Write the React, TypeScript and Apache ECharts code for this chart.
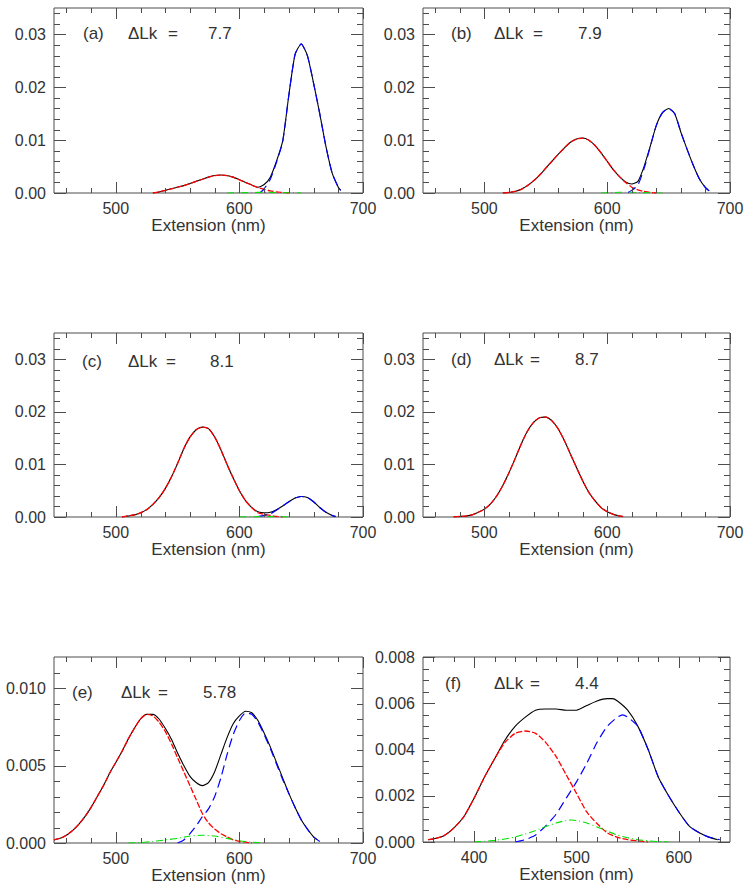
import React, { useEffect, useRef } from "react";
import * as echarts from "echarts";

// ---------------- tick values ----------------
const xTicksMain = [500, 600, 700];
const xMinorMain = [460, 480, 520, 540, 560, 580, 620, 640, 660, 680];
const xTicksF = [400, 500, 600];
const xMinorF = [360, 380, 420, 440, 460, 480, 520, 540, 560, 580, 620, 640];
const yTicksAD = [0, 0.01, 0.02, 0.03];
const yMinorAD = [0.002, 0.004, 0.006, 0.008, 0.012, 0.014, 0.016, 0.018, 0.022, 0.024, 0.026, 0.028, 0.032, 0.034];
const yTicksE = [0, 0.005, 0.01];
const yMinorE = [0.001, 0.002, 0.003, 0.004, 0.006, 0.007, 0.008, 0.009, 0.011];
const yTicksF = [0, 0.002, 0.004, 0.006, 0.008];
const yMinorF = [0.0005, 0.001, 0.0015, 0.0025, 0.003, 0.0035, 0.0045, 0.005, 0.0055, 0.0065, 0.007, 0.0075];

const panelLabels = ["(a)", "(b)", "(c)", "(d)", "(e)", "(f)"];
const deltaLk = ["7.7", "7.9", "8.1", "8.7", "5.78", "4.4"];

// ---------------- panel (a) ----------------
const xA_total = [530, 535, 540, 545, 550, 555, 560, 565, 570, 575, 580, 585, 590, 595, 600, 605, 610, 615, 620, 625, 630, 635, 640, 645, 650, 655, 660, 665, 670, 675, 680, 682];
const yA_total = [0.0, 0.0002, 0.0005, 0.0008, 0.0011, 0.0014, 0.0018, 0.0022, 0.0026, 0.003, 0.0033, 0.0034, 0.0033, 0.003, 0.0025, 0.002, 0.0015, 0.0011, 0.0016, 0.003, 0.006, 0.0098, 0.0185, 0.0262, 0.0282, 0.026, 0.0208, 0.015, 0.0088, 0.0038, 0.0011, 0.0005];
const xA_red = [530, 535, 540, 545, 550, 555, 560, 565, 570, 575, 580, 585, 590, 595, 600, 605, 610, 615, 620, 625, 630, 635, 640];
const yA_red = [0.0, 0.0002, 0.0005, 0.0008, 0.0011, 0.0014, 0.0018, 0.0022, 0.0026, 0.003, 0.0033, 0.0034, 0.0033, 0.003, 0.0025, 0.002, 0.0015, 0.001, 0.0007, 0.0004, 0.0002, 0.0001, 0.0];
const xA_blue = [617, 620, 625, 630, 635, 640, 645, 650, 655, 660, 665, 670, 675, 680, 682];
const yA_blue = [0.0001, 0.0008, 0.0026, 0.0058, 0.0097, 0.0185, 0.0262, 0.0282, 0.026, 0.0208, 0.015, 0.0088, 0.0038, 0.0011, 0.0005];
const xA_green = [590, 600, 610, 620, 630, 640, 650];
const yA_green = [0, 0.00005, 0.0001, 0.00012, 0.0001, 0.00005, 0];

// ---------------- panel (b) ----------------
const xB_total = [515, 520, 525, 530, 535, 540, 545, 550, 555, 560, 565, 570, 575, 580, 585, 590, 595, 600, 605, 610, 615, 620, 625, 630, 635, 640, 645, 650, 655, 660, 665, 670, 675, 680, 683];
const yB_total = [0.0, 0.0001, 0.0003, 0.0007, 0.0014, 0.0023, 0.0034, 0.0047, 0.006, 0.0073, 0.0085, 0.0096, 0.0102, 0.0104, 0.01, 0.009, 0.0076, 0.006, 0.0044, 0.0031, 0.0021, 0.0017, 0.0022, 0.005, 0.0088, 0.0128, 0.0152, 0.016, 0.015, 0.0115, 0.0083, 0.0053, 0.0027, 0.001, 0.0004];
const xB_red = [515, 520, 525, 530, 535, 540, 545, 550, 555, 560, 565, 570, 575, 580, 585, 590, 595, 600, 605, 610, 615, 620, 625, 630, 635, 640];
const yB_red = [0.0, 0.0001, 0.0003, 0.0007, 0.0014, 0.0023, 0.0034, 0.0047, 0.006, 0.0073, 0.0085, 0.0096, 0.0102, 0.0104, 0.01, 0.009, 0.0076, 0.006, 0.0044, 0.0031, 0.002, 0.0011, 0.0006, 0.0003, 0.0001, 0.0];
const xB_blue = [617, 620, 625, 630, 635, 640, 645, 650, 655, 660, 665, 670, 675, 680, 683];
const yB_blue = [0.0001, 0.0005, 0.0015, 0.0046, 0.0087, 0.0128, 0.0152, 0.016, 0.015, 0.0115, 0.0083, 0.0053, 0.0027, 0.001, 0.0004];
const xB_green = [595, 605, 615, 625, 635, 645];
const yB_green = [0, 0.0001, 0.00015, 0.0001, 0.00003, 0];

// ---------------- panel (c) ----------------
const xC_total = [505, 510, 515, 520, 525, 530, 535, 540, 545, 550, 555, 560, 565, 570, 575, 580, 585, 590, 595, 600, 605, 610, 615, 620, 625, 630, 635, 640, 645, 650, 655, 660, 665, 670, 675, 678];
const yC_total = [0.0, 0.0002, 0.0004, 0.0008, 0.0014, 0.0024, 0.0037, 0.0054, 0.0076, 0.0102, 0.013, 0.0152, 0.0166, 0.0171, 0.0168, 0.0152, 0.0128, 0.01, 0.0074, 0.005, 0.0031, 0.0018, 0.001, 0.0008, 0.0009, 0.0014, 0.0021, 0.0029, 0.0036, 0.0039, 0.0037, 0.0029, 0.0018, 0.0009, 0.0003, 0.0001];
const xC_red = [505, 510, 515, 520, 525, 530, 535, 540, 545, 550, 555, 560, 565, 570, 575, 580, 585, 590, 595, 600, 605, 610, 615, 620, 625, 630, 635];
const yC_red = [0.0, 0.0002, 0.0004, 0.0008, 0.0014, 0.0024, 0.0037, 0.0054, 0.0076, 0.0102, 0.013, 0.0152, 0.0166, 0.0171, 0.0168, 0.0152, 0.0128, 0.01, 0.0074, 0.005, 0.0031, 0.0018, 0.0008, 0.0005, 0.0003, 0.0001, 0.0];
const xC_blue = [615, 620, 625, 630, 635, 640, 645, 650, 655, 660, 665, 670, 675, 678];
const yC_blue = [0.0001, 0.0003, 0.0006, 0.0013, 0.0021, 0.0029, 0.0036, 0.0039, 0.0037, 0.0029, 0.0018, 0.0009, 0.0003, 0.0001];
const xC_green = [600, 610, 620, 630, 640];
const yC_green = [0, 0.00005, 0.0001, 0.00005, 0];

// ---------------- panel (d) ----------------
const xD_total = [475, 480, 485, 490, 495, 500, 505, 510, 515, 520, 525, 530, 535, 540, 545, 550, 555, 560, 565, 570, 575, 580, 585, 590, 595, 600, 605, 610, 613];
const yD_total = [0.0, 0.0001, 0.0002, 0.0004, 0.0009, 0.0015, 0.0025, 0.004, 0.006, 0.0084, 0.0111, 0.0139, 0.0163, 0.018, 0.0189, 0.019, 0.0183, 0.0168, 0.0146, 0.012, 0.0094, 0.0069, 0.0047, 0.0031, 0.0018, 0.001, 0.0005, 0.0002, 0.0001];
const xD_red = [475, 480, 485, 490, 495, 500, 505, 510, 515, 520, 525, 530, 535, 540, 545, 550, 555, 560, 565, 570, 575, 580, 585, 590, 595, 600, 605, 610, 613];
const yD_red = [0.0, 0.0001, 0.0002, 0.0004, 0.0009, 0.0015, 0.0025, 0.004, 0.006, 0.0084, 0.0111, 0.0139, 0.0163, 0.018, 0.0189, 0.019, 0.0183, 0.0168, 0.0146, 0.012, 0.0094, 0.0069, 0.0047, 0.0031, 0.0018, 0.001, 0.0005, 0.0002, 0.0001];

// ---------------- panel (e) ----------------
const xE_total = [450, 455, 460, 465, 470, 475, 480, 485, 490, 495, 500, 505, 510, 515, 520, 525, 530, 535, 540, 545, 550, 555, 560, 565, 570, 575, 580, 585, 590, 595, 600, 605, 610, 615, 620, 625, 630, 635, 640, 645, 650, 655, 660, 663];
const yE_total = [0.0002, 0.0003, 0.0005, 0.0008, 0.0012, 0.0017, 0.0023, 0.003, 0.0037, 0.0045, 0.0052, 0.0059, 0.0067, 0.0074, 0.008, 0.0083, 0.0083, 0.008, 0.0074, 0.0067, 0.0058, 0.005, 0.0043, 0.0039, 0.0037, 0.0039, 0.0046, 0.0057, 0.0068, 0.0077, 0.0082, 0.0085, 0.0084, 0.0079, 0.0071, 0.0062, 0.0052, 0.0042, 0.0032, 0.0023, 0.0015, 0.0009, 0.0004, 0.0002];
const xE_red = [450, 455, 460, 465, 470, 475, 480, 485, 490, 495, 500, 505, 510, 515, 520, 525, 530, 535, 540, 545, 550, 555, 560, 565, 570, 575, 580, 585, 590, 595, 600, 605, 610];
const yE_red = [0.0002, 0.0003, 0.0005, 0.0008, 0.0012, 0.0017, 0.0023, 0.003, 0.0037, 0.0045, 0.0052, 0.0059, 0.0067, 0.0074, 0.008, 0.0083, 0.0082, 0.0078, 0.0072, 0.0064, 0.0055, 0.0046, 0.0037, 0.0028, 0.0019, 0.0013, 0.0009, 0.0006, 0.0004, 0.0002, 0.0001, 0.00005, 0.0];
const xE_blue = [550, 555, 560, 565, 570, 575, 580, 585, 590, 595, 600, 605, 610, 615, 620, 625, 630, 635, 640, 645, 650, 655, 660, 665];
const yE_blue = [0.0, 0.0002, 0.0006, 0.0011, 0.0017, 0.0022, 0.003, 0.0042, 0.0057, 0.007, 0.0079, 0.0084, 0.0083, 0.0078, 0.007, 0.0061, 0.0051, 0.0041, 0.0032, 0.0023, 0.0015, 0.0009, 0.0004, 0.0001];
const xE_green = [510, 520, 530, 540, 550, 560, 570, 580, 590, 600, 610, 620];
const yE_green = [0, 0.00003, 0.0001, 0.0002, 0.0003, 0.00045, 0.0005, 0.00045, 0.0003, 0.00015, 0.00005, 0];

// ---------------- panel (f) ----------------
const xF_total = [355, 360, 370, 380, 390, 400, 410, 420, 430, 440, 450, 460, 470, 480, 490, 500, 510, 520, 530, 535, 540, 550, 560, 570, 580, 590, 600, 610, 620, 630, 638];
const yF_total = [0.0001, 0.00013, 0.00026, 0.0006, 0.0011, 0.0019, 0.0028, 0.0036, 0.0044, 0.005, 0.0054, 0.0057, 0.00575, 0.00575, 0.0057, 0.0057, 0.0059, 0.0061, 0.0062, 0.0062, 0.0061, 0.0057, 0.005, 0.004, 0.0028, 0.002, 0.0013, 0.0007, 0.0004, 0.0002, 0.0001];
const xF_red = [355, 360, 370, 380, 390, 400, 410, 420, 430, 440, 450, 460, 470, 480, 490, 500, 510, 520, 530, 540, 550, 560, 570];
const yF_red = [0.0001, 0.00013, 0.00026, 0.0006, 0.0011, 0.0019, 0.0028, 0.0036, 0.0043, 0.0047, 0.0048, 0.0047, 0.0043, 0.0037, 0.0029, 0.0021, 0.0013, 0.0008, 0.0004, 0.0002, 0.0001, 0.00005, 0.0];
const xF_blue = [440, 450, 460, 470, 480, 490, 500, 510, 520, 530, 540, 545, 550, 560, 570, 580, 590, 600, 610, 620, 630, 640];
const yF_blue = [0.0, 0.0001, 0.0003, 0.0007, 0.0012, 0.0019, 0.0026, 0.0034, 0.0043, 0.005, 0.0054, 0.0055, 0.0054, 0.005, 0.004, 0.0028, 0.002, 0.0013, 0.0007, 0.0004, 0.0002, 0.0001];
const xF_green = [400, 410, 420, 430, 440, 450, 460, 470, 480, 490, 495, 500, 510, 520, 530, 540, 550, 560, 570, 580, 590];
const yF_green = [0, 0.00003, 0.00007, 0.00013, 0.00022, 0.00035, 0.0005, 0.00067, 0.00082, 0.00093, 0.00095, 0.00093, 0.00082, 0.00065, 0.00047, 0.0003, 0.00018, 0.0001, 0.00005, 0.00002, 0];

// ---------------- styling ----------------
const FONT = "'Liberation Sans', Arial, sans-serif";
const TXT = "#333333";
const AX = "#4d4d4d";

type Kind = "total" | "c1" | "c2" | "c3";
type Curve = { x: number[]; y: number[]; kind: Kind };
type Panel = {
  left: number; top: number; width: number; height: number;
  xMin: number; xMax: number; yMax: number;
  xMajor: number[]; xMinor: number[]; yMajor: number[]; yMinor: number[];
  dec: number;
  curves: Curve[];
  idx: number;
  ann: { lx: number; cy: number; dx: number; ex: number; vx: number };
};

const LINE: Record<Kind, any> = {
  total: { color: "#000000", type: "solid", width: 1.1 },
  c1: { color: "#ff0000", type: [6, 2], width: 1.3 },
  c2: { color: "#0000ff", type: [9, 5], width: 1.2 },
  c3: { color: "#00e000", type: [7, 3, 1, 3], width: 1.1 },
};

function xTickSeries(gi: number, p: Panel, vals: number[], len: number) {
  return {
    type: "custom",
    xAxisIndex: gi,
    yAxisIndex: gi,
    z: 4,
    data: vals.map((v) => [v, 0]),
    renderItem: (params: any, api: any) => {
      const v = api.value(0);
      const b = api.coord([v, 0]);
      const t = api.coord([v, p.yMax]);
      const x = Math.round(b[0]) + 0.5;
      return {
        type: "group",
        children: [
          { type: "line", shape: { x1: x, y1: b[1], x2: x, y2: b[1] - len }, style: { stroke: AX, lineWidth: 1 } },
          { type: "line", shape: { x1: x, y1: t[1], x2: x, y2: t[1] + len }, style: { stroke: AX, lineWidth: 1 } },
        ],
      };
    },
  };
}

function yTickSeries(gi: number, p: Panel, vals: number[], len: number) {
  return {
    type: "custom",
    xAxisIndex: gi,
    yAxisIndex: gi,
    z: 4,
    data: vals.map((v) => [p.xMin, v]),
    renderItem: (params: any, api: any) => {
      const v = api.value(1);
      const l = api.coord([p.xMin, v]);
      const r = api.coord([p.xMax, v]);
      const y = Math.round(l[1]) + 0.5;
      return {
        type: "group",
        children: [
          { type: "line", shape: { x1: l[0], y1: y, x2: l[0] + len, y2: y }, style: { stroke: AX, lineWidth: 1 } },
          { type: "line", shape: { x1: r[0], y1: y, x2: r[0] - len, y2: y }, style: { stroke: AX, lineWidth: 1 } },
        ],
      };
    },
  };
}

function buildOption(panels: Panel[]) {
  const grid: any[] = [];
  const xAxis: any[] = [];
  const yAxis: any[] = [];
  const series: any[] = [];
  const graphic: any[] = [];

  panels.forEach((p, gi) => {
    grid.push({
      left: p.left, top: p.top, width: p.width, height: p.height,
      show: true, borderColor: AX, borderWidth: 1, backgroundColor: "transparent",
    });
    xAxis.push({
      type: "value", gridIndex: gi, min: p.xMin, max: p.xMax, position: "bottom",
      splitLine: { show: false }, axisLine: { show: false }, axisTick: { show: false },
      axisLabel: { show: true, customValues: p.xMajor, margin: 7, color: TXT, fontSize: 16, fontFamily: FONT, formatter: (v: number) => String(Math.round(v)) },
      name: "Extension (nm)", nameLocation: "middle", nameGap: 23,
      nameTextStyle: { color: TXT, fontSize: 17, fontFamily: FONT },
    });
    yAxis.push({
      type: "value", gridIndex: gi, min: 0, max: p.yMax, position: "left",
      splitLine: { show: false }, axisLine: { show: false }, axisTick: { show: false },
      axisLabel: { show: true, customValues: p.yMajor, margin: 8, color: TXT, fontSize: 16, fontFamily: FONT, formatter: (v: number) => v.toFixed(p.dec) },
    });

    p.curves.forEach((c) => {
      series.push({
        type: "line",
        xAxisIndex: gi,
        yAxisIndex: gi,
        data: c.x.map((xv, i) => [xv, c.y[i]]),
        showSymbol: false,
        symbol: "none",
        smooth: 0.2,
        clip: true,
        lineStyle: LINE[c.kind],
        z: c.kind === "total" ? 2 : 3,
      });
    });

    series.push(
      xTickSeries(gi, p, p.xMajor, 11),
      xTickSeries(gi, p, p.xMinor, 5),
      yTickSeries(gi, p, p.yMajor, 12),
      yTickSeries(gi, p, p.yMinor, 6),
    );

    const ts = { fill: TXT, fontSize: 17, fontFamily: FONT, verticalAlign: "middle", align: "left" };
    graphic.push(
      { type: "text", x: p.ann.lx, y: p.ann.cy, style: { ...ts, text: panelLabels[p.idx] } },
      { type: "text", x: p.ann.dx, y: p.ann.cy, style: { ...ts, text: "ΔLk" } },
      { type: "text", x: p.ann.ex, y: p.ann.cy, style: { ...ts, text: "=" } },
      { type: "text", x: p.ann.vx, y: p.ann.cy, style: { ...ts, text: deltaLk[p.idx] } },
    );
  });
  return { animation: false, grid, xAxis, yAxis, series, graphic };
}

const panels: Panel[] = [
  {
    idx: 0, left: 54, top: 8, width: 309, height: 185, xMin: 450, xMax: 700, yMax: 0.035,
    xMajor: xTicksMain, xMinor: xMinorMain, yMajor: yTicksAD, yMinor: yMinorAD, dec: 2,
    curves: [
      { x: xA_total, y: yA_total, kind: "total" },
      { x: xA_red, y: yA_red, kind: "c1" },
      { x: xA_blue, y: yA_blue, kind: "c2" },
      { x: xA_green, y: yA_green, kind: "c3" },
    ],
    ann: { lx: 83, cy: 33, dx: 128, ex: 168, vx: 208 },
  },
  {
    idx: 1, left: 423, top: 8, width: 307, height: 185, xMin: 450, xMax: 700, yMax: 0.035,
    xMajor: xTicksMain, xMinor: xMinorMain, yMajor: yTicksAD, yMinor: yMinorAD, dec: 2,
    curves: [
      { x: xB_total, y: yB_total, kind: "total" },
      { x: xB_red, y: yB_red, kind: "c1" },
      { x: xB_blue, y: yB_blue, kind: "c2" },
      { x: xB_green, y: yB_green, kind: "c3" },
    ],
    ann: { lx: 451, cy: 33, dx: 494, ex: 533, vx: 578 },
  },
  {
    idx: 2, left: 54, top: 333, width: 309, height: 184, xMin: 450, xMax: 700, yMax: 0.035,
    xMajor: xTicksMain, xMinor: xMinorMain, yMajor: yTicksAD, yMinor: yMinorAD, dec: 2,
    curves: [
      { x: xC_total, y: yC_total, kind: "total" },
      { x: xC_red, y: yC_red, kind: "c1" },
      { x: xC_blue, y: yC_blue, kind: "c2" },
      { x: xC_green, y: yC_green, kind: "c3" },
    ],
    ann: { lx: 82, cy: 361, dx: 128, ex: 166, vx: 210 },
  },
  {
    idx: 3, left: 423, top: 333, width: 307, height: 184, xMin: 450, xMax: 700, yMax: 0.035,
    xMajor: xTicksMain, xMinor: xMinorMain, yMajor: yTicksAD, yMinor: yMinorAD, dec: 2,
    curves: [
      { x: xD_total, y: yD_total, kind: "total" },
      { x: xD_red, y: yD_red, kind: "c1" },
    ],
    ann: { lx: 451, cy: 359, dx: 494, ex: 530, vx: 575 },
  },
  {
    idx: 4, left: 54, top: 657, width: 309, height: 186, xMin: 450, xMax: 700, yMax: 0.012,
    xMajor: xTicksMain, xMinor: xMinorMain, yMajor: yTicksE, yMinor: yMinorE, dec: 3,
    curves: [
      { x: xE_total, y: yE_total, kind: "total" },
      { x: xE_red, y: yE_red, kind: "c1" },
      { x: xE_blue, y: yE_blue, kind: "c2" },
      { x: xE_green, y: yE_green, kind: "c3" },
    ],
    ann: { lx: 72, cy: 692, dx: 121, ex: 158, vx: 203 },
  },
  {
    idx: 5, left: 423, top: 657, width: 307, height: 185, xMin: 350, xMax: 650, yMax: 0.008,
    xMajor: xTicksF, xMinor: xMinorF, yMajor: yTicksF, yMinor: yMinorF, dec: 3,
    curves: [
      { x: xF_total, y: yF_total, kind: "total" },
      { x: xF_red, y: yF_red, kind: "c1" },
      { x: xF_blue, y: yF_blue, kind: "c2" },
      { x: xF_green, y: yF_green, kind: "c3" },
    ],
    ann: { lx: 445, cy: 683, dx: 494, ex: 530, vx: 575 },
  },
];

export default function App() {
  const ref = useRef<HTMLDivElement>(null);
  useEffect(() => {
    if (!ref.current) return;
    const chart = echarts.init(ref.current, undefined, { renderer: "svg" });
    chart.setOption(buildOption(panels) as any);
    return () => chart.dispose();
  }, []);
  return (
    <div
      ref={ref}
      style={{ position: "fixed", left: 0, top: 0, width: 751, height: 891, background: "#ffffff" }}
    />
  );
}
